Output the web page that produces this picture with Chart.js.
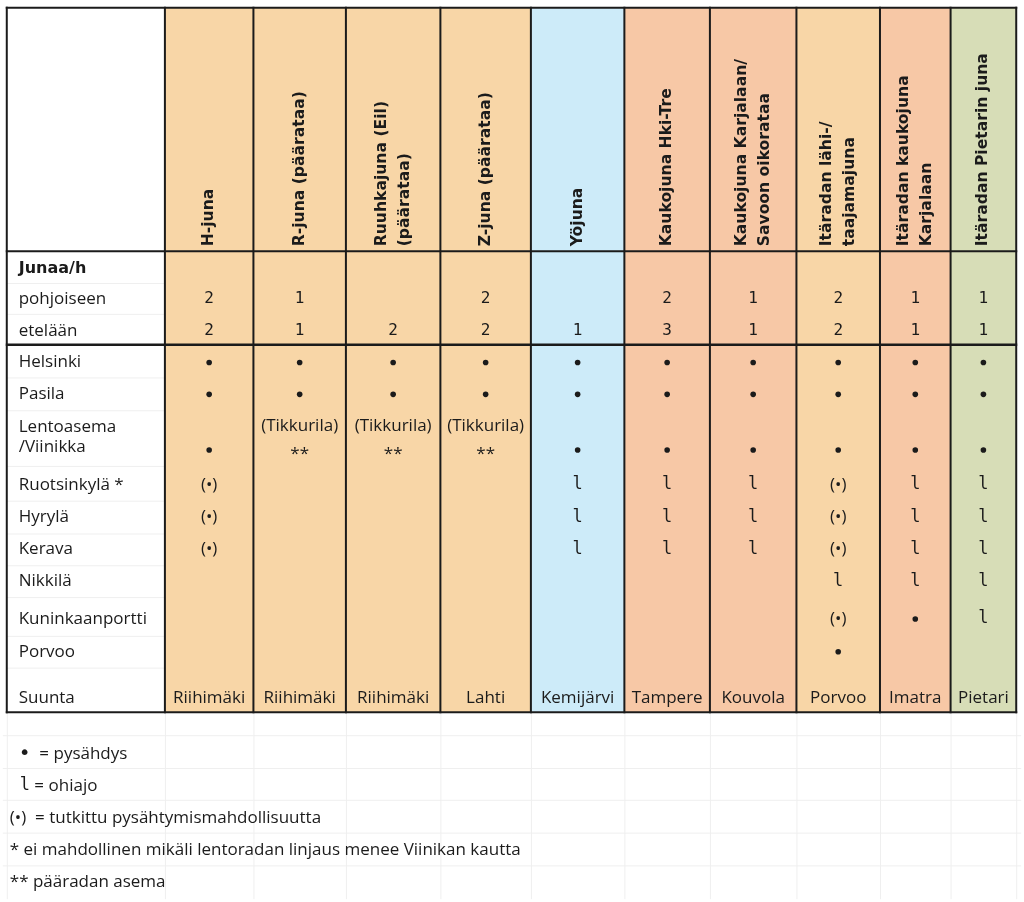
<!DOCTYPE html>
<html>
<head>
<meta charset="utf-8">
<script src="https://cdn.jsdelivr.net/npm/chart.js@4"></script>
<style>
  html, body { margin: 0; padding: 0; background: #fff; }
  #wrap { width: 1024px; height: 902px; }
</style>
</head>
<body>
<div id="wrap"><canvas id="taulukko"></canvas></div>
<script>
//---------------------- Data ------------------------------------------

const junat = [
  ["H-juna"],
  ["R-juna (päärataa)"],
  ["Ruuhkajuna (Eil)", "(päärataa)"],
  ["Z-juna (päärataa)"],
  ["Yöjuna"],
  ["Kaukojuna Hki-Tre"],
  ["Kaukojuna Karjalaan/", "Savoon oikorataa"],
  ["Itäradan lähi-/", "taajamajuna"],
  ["Itäradan kaukojuna", "Karjalaan"],
  ["Itäradan Pietarin juna"]
];
const junaTyyppi = ["lahi", "lahi", "lahi", "lahi", "yo", "kauko", "kauko", "lahi", "kauko", "pietari"];

const pohjoiseen = [2, 1, null, 2, null, 2, 1, 2, 1, 1];
const etelaan    = [2, 1, 2, 2, 1, 3, 1, 2, 1, 1];

const asemat = ["Helsinki", "Pasila", "Lentoasema\n/Viinikka", "Ruotsinkylä *", "Hyrylä",
                "Kerava", "Nikkilä", "Kuninkaanportti", "Porvoo"];

// • = pysähdys, l = ohiajo, (•) = tutkittu
const pysahdykset = [
  ["•", "•", "•", "•", "•", "•", "•", "•", "•", "•"],
  ["•", "•", "•", "•", "•", "•", "•", "•", "•", "•"],
  ["•", "(Tikkurila)\n**", "(Tikkurila)\n**", "(Tikkurila)\n**", "•", "•", "•", "•", "•", "•"],
  ["(•)", "", "", "", "l", "l", "l", "(•)", "l", "l"],
  ["(•)", "", "", "", "l", "l", "l", "(•)", "l", "l"],
  ["(•)", "", "", "", "l", "l", "l", "(•)", "l", "l"],
  ["", "", "", "", "", "", "", "l", "l", "l"],
  ["", "", "", "", "", "", "", "(•)", "•", "l"],
  ["", "", "", "", "", "", "", "•", "", ""]
];

const suunta = ["Riihimäki", "Riihimäki", "Riihimäki", "Lahti", "Kemijärvi",
                "Tampere", "Kouvola", "Porvoo", "Imatra", "Pietari"];

const selitteet = [
  ["•", "  = pysähdys"],
  ["l", " = ohiajo"],
  ["(•)", "  = tutkittu pysähtymismahdollisuutta"],
  ["*", " ei mahdollinen mikäli lentoradan linjaus menee Viinikan kautta"],
  ["**", " pääradan asema"]
];

//---------------------- Asettelu ----------------------------------------

const sarakeRajat = [4, 163, 252, 345, 440, 531, 625, 711, 798, 882, 953, 1019];
const yla = 5, otsikkoAla = 250, maaraAla = 344, ala = 714;
const riviJunaa = 268, riviPohj = 298, riviEtel = 330, riviSuunta = 700;
const asemaRivit = [[362], [394], [426, 450], [485], [518], [550], [582], [620], [653]];
const seliteY = [756, 788, 820, 853, 885];
const seliteX = [16, 17, 7, 7, 7];
const vaaleatViivat = [282, 313, 377, 410, 466, 501, 534, 566, 598, 637, 669];
const alaViivat = [737, 770, 802, 835, 868];

const varit = { lahi: "#f8d6a7", yo: "#cdebf9", kauko: "#f7c8a6", pietari: "#d7ddb7" };
const tumma = "#1b1b1b";
const tekstiFontti = "17px 'Open Sans'";
const numeroFontti = "16px 'DejaVu Sans Mono'";
const ohiajoFontti = "17px 'DejaVu Sans Mono'";

const keskiX = c => (sarakeRajat[c + 1] + sarakeRajat[c + 2]) / 2;

// pysähdyspisteet piirretään scatter-datasetillä
const pisteet = [];
pysahdykset.forEach((rivi, r) => {
  rivi.forEach((m, c) => {
    if (m === "•") {
      const ys = asemaRivit[r];
      pisteet.push({ x: keskiX(c), y: ys[ys.length - 1] });
    }
  });
});

//---------------------- Taulukko-plugin ---------------------------------

const taulukkoPlugin = {
  id: "taulukko",
  beforeDatasetsDraw(chart) {
    const { ctx, scales: { x, y } } = chart;
    const px = v => x.getPixelForValue(v);
    const py = v => y.getPixelForValue(v);

    ctx.save();

    // taustavärit
    junaTyyppi.forEach((t, c) => {
      ctx.fillStyle = varit[t];
      const x0 = px(sarakeRajat[c + 1]), x1 = px(sarakeRajat[c + 2]);
      ctx.fillRect(x0, py(yla), x1 - x0, py(ala) - py(yla));
    });

    // vaaleat taulukkolaskennan ruudukkoviivat
    ctx.strokeStyle = "#efefef";
    ctx.lineWidth = 1;
    vaaleatViivat.forEach(v => {
      ctx.beginPath();
      ctx.moveTo(px(sarakeRajat[0]), py(v) + 0.5);
      ctx.lineTo(px(sarakeRajat[1]), py(v) + 0.5);
      ctx.stroke();
    });
    alaViivat.forEach(v => {
      ctx.beginPath();
      ctx.moveTo(px(0), py(v) + 0.5);
      ctx.lineTo(px(1024), py(v) + 0.5);
      ctx.stroke();
    });
    sarakeRajat.forEach(s => {
      ctx.beginPath();
      ctx.moveTo(px(s) + 0.5, py(ala));
      ctx.lineTo(px(s) + 0.5, py(902));
      ctx.stroke();
    });

    // reunat
    ctx.strokeStyle = tumma;
    ctx.lineWidth = 2;
    sarakeRajat.forEach(s => {
      ctx.beginPath();
      ctx.moveTo(px(s), py(yla) - 1);
      ctx.lineTo(px(s), py(ala) + 1);
      ctx.stroke();
    });
    [yla, otsikkoAla, maaraAla, ala].forEach(v => {
      ctx.lineWidth = v === maaraAla ? 2.5 : 2;
      ctx.beginPath();
      ctx.moveTo(px(sarakeRajat[0]) - 1, py(v));
      ctx.lineTo(px(sarakeRajat[sarakeRajat.length - 1]) + 1, py(v));
      ctx.stroke();
    });

    ctx.fillStyle = tumma;

    // pystyyn käännetyt otsikot
    ctx.font = "bold 15.6px 'DejaVu Sans'";
    ctx.textAlign = "left";
    ctx.textBaseline = "middle";
    junat.forEach((rivit, c) => {
      ctx.save();
      ctx.translate(px(keskiX(c)), py(245));
      ctx.rotate(-Math.PI / 2);
      rivit.forEach((teksti, i) => {
        const siirto = (i - (rivit.length - 1) / 2) * 23;
        ctx.fillText(teksti, 0, siirto);
      });
      ctx.restore();
    });

    // rivien nimet
    const vasen = px(16);
    ctx.font = "bold 16px 'DejaVu Sans'";
    ctx.fillText("Junaa/h", vasen, py(riviJunaa));
    ctx.font = tekstiFontti;
    ctx.fillText("pohjoiseen", vasen, py(riviPohj));
    ctx.fillText("etelään", vasen, py(riviEtel));
    asemat.forEach((nimi, r) => {
      const osat = nimi.split("\n");
      const ys = asemaRivit[r];
      osat.forEach((osa, i) => {
        const yy = osat.length > 1 ? [427, 447][i] : ys[0];
        ctx.fillText(osa, vasen, py(yy));
      });
    });
    ctx.fillText("Suunta", vasen, py(riviSuunta));

    // junamäärät
    ctx.textAlign = "center";
    ctx.font = numeroFontti;
    pohjoiseen.forEach((n, c) => { if (n !== null) ctx.fillText(String(n), px(keskiX(c)), py(riviPohj)); });
    etelaan.forEach((n, c) => { if (n !== null) ctx.fillText(String(n), px(keskiX(c)), py(riviEtel)); });

    // pysähdysmerkinnät (muut kuin pisteet)
    pysahdykset.forEach((rivi, r) => {
      rivi.forEach((m, c) => {
        if (!m || m === "•") return;
        const osat = m.split("\n");
        const ys = asemaRivit[r];
        osat.forEach((osa, i) => {
          let yy = osat.length > 1 ? ys[i] : ys[ys.length - 1];
          if (osa === "**") yy += 4;
          ctx.font = osa === "l" ? ohiajoFontti : tekstiFontti;
          ctx.fillText(osa, px(keskiX(c)), py(yy));
        });
      });
    });

    // suunta
    ctx.font = tekstiFontti;
    suunta.forEach((s, c) => ctx.fillText(s, px(keskiX(c)), py(riviSuunta)));

    // selitteet
    ctx.textAlign = "left";
    selitteet.forEach(([merkki, teksti], i) => {
      ctx.font = merkki === "l" ? ohiajoFontti : (merkki === "•" ? "20px 'DejaVu Sans'" : tekstiFontti);
      const x0 = px(seliteX[i]);
      ctx.fillText(merkki, x0, py(seliteY[i]));
      const w = ctx.measureText(merkki).width;
      ctx.font = tekstiFontti;
      ctx.fillText(teksti, x0 + w, py(seliteY[i]));
    });

    ctx.restore();
  }
};

//---------------------- Kaavio ------------------------------------------

let taulukko = new Chart(document.getElementById("taulukko"), {
  type: "scatter",
  data: {
    datasets: [{
      label: "pysähdys",
      data: pisteet,
      pointRadius: 2.8,
      pointHoverRadius: 2.8,
      backgroundColor: tumma,
      borderWidth: 0,
      clip: false
    }]
  },
  options: {
    responsive: true,
    maintainAspectRatio: false,
    animation: false,
    events: [],
    layout: { padding: 0 },
    plugins: {
      legend: { display: false },
      tooltip: { enabled: false }
    },
    scales: {
      x: { type: "linear", min: 0, max: 1024, display: false },
      y: { type: "linear", min: 0, max: 902, reverse: true, display: false }
    }
  },
  plugins: [taulukkoPlugin]
});
</script>
</body>
</html>
